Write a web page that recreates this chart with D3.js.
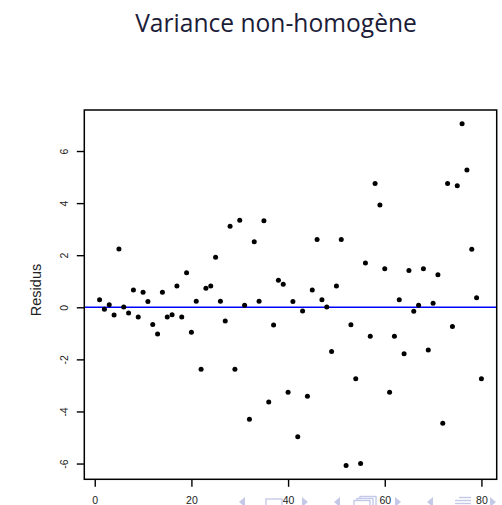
<!DOCTYPE html>
<html>
<head>
<meta charset="utf-8">
<script src="https://cdn.jsdelivr.net/npm/d3@7/dist/d3.min.js"></script>
<style>
  html, body { margin: 0; padding: 0; background: #fff; overflow: hidden; }
  svg { display: block; }
</style>
</head>
<body>
<svg id="chart" width="502" height="505"></svg>
<script>
// Residuals of the fitted model, in observation order (1..80)
const residus = [
  0.29, -0.08, 0.10, -0.30, 2.24, 0.01, -0.22, 0.66, -0.37, 0.58,
  0.22, -0.66, -1.03, 0.58, -0.37, -0.29, 0.82, -0.37, 1.33, -0.96,
  0.23, -2.38, 0.73, 0.82, 1.92, 0.23, -0.53, 3.11, -2.38, 3.34,
  0.08, -4.30, 2.52, 0.23, 3.32, -3.64, -0.68, 1.04, 0.88, -3.26,
  0.22, -4.97, -0.14, -3.42, 0.66, 2.60, 0.29, 0.01, -1.70, 0.82,
  2.60, -6.08, -0.67, -2.74, -6.00, 1.70, -1.11, 4.75, 3.93, 1.48,
  -3.26, -1.11, 0.29, -1.78, 1.41, -0.15, 0.08, 1.48, -1.64, 0.15,
  1.25, -4.45, 4.75, -0.74, 4.67, 7.05, 5.27, 2.23, 0.37, -2.74
];
const xTicks = [0, 20, 40, 60, 80];
const yTicks = [-6, -4, -2, 0, 2, 4, 6];
const titre = "Variance non-homogène";
const yLabel = "Residus";

const points = residus.map((r, i) => ({ index: i + 1, r }));

const svg = d3.select("#chart");

// plot region
const plotL = 84.3, plotR = 496.7, plotT = 110, plotB = 479.3;

// R-style axis ranges: data extent padded by 4% on each side
function padded(ext) {
  const d = (ext[1] - ext[0]) * 0.04;
  return [ext[0] - d, ext[1] + d];
}
const x = d3.scaleLinear()
  .domain(padded(d3.extent(points, d => d.index)))
  .range([plotL, plotR]);
const y = d3.scaleLinear()
  .domain(padded(d3.extent(points, d => d.r)))
  .range([plotB, plotT]);

// title
svg.append("text")
  .attr("x", 276)
  .attr("y", 32)
  .attr("text-anchor", "middle")
  .attr("font-family", "Open Sans, sans-serif")
  .attr("font-size", 24.6)
  .attr("fill", "#1c1c38")
  .text(titre);

// zero reference line
svg.append("line")
  .attr("x1", plotL).attr("x2", plotR)
  .attr("y1", y(0)).attr("y2", y(0))
  .attr("stroke", "#0000ff")
  .attr("stroke-width", 1.6);

// residual points
svg.append("g")
  .selectAll("circle")
  .data(points)
  .join("circle")
  .attr("cx", d => x(d.index))
  .attr("cy", d => y(d.r))
  .attr("r", 2.5)
  .attr("fill", "#000");

// axes
const tickFont = "Liberation Sans, Arial, sans-serif";
const xAxis = svg.append("g")
  .attr("transform", `translate(0,${plotB})`)
  .call(d3.axisBottom(x).tickValues(xTicks).tickSize(7.5).tickPadding(4).tickFormat(d3.format("d")));
xAxis.select(".domain").remove();
xAxis.selectAll("line").attr("stroke", "#000").attr("stroke-width", 1.4);
xAxis.selectAll("text")
  .attr("font-family", tickFont)
  .attr("font-size", 10.5)
  .attr("fill", "#222")
  .attr("dy", "0.72em")
  .attr("y", 17.5);

const yAxis = svg.append("g")
  .attr("transform", `translate(${plotL},0)`)
  .call(d3.axisLeft(y).tickValues(yTicks).tickSize(7.5).tickFormat(d => d3.format("d")(d).replace("\u2212", "-")));
yAxis.select(".domain").remove();
yAxis.selectAll("line").attr("stroke", "#000").attr("stroke-width", 1.4);
yAxis.selectAll("text")
  .attr("font-family", tickFont)
  .attr("font-size", 10.5)
  .attr("fill", "#222")
  .attr("text-anchor", "middle")
  .attr("dy", null)
  .attr("x", 0)
  .attr("y", -16.5)
  .attr("transform", "rotate(-90)");

// plot frame
svg.append("rect")
  .attr("x", plotL).attr("y", plotT)
  .attr("width", plotR - plotL).attr("height", plotB - plotT)
  .attr("fill", "none")
  .attr("stroke", "#000")
  .attr("stroke-width", 1.5);

// y axis title
svg.append("text")
  .attr("transform", `translate(40.5,290) rotate(-90)`)
  .attr("text-anchor", "middle")
  .attr("font-family", tickFont)
  .attr("font-size", 14.5)
  .attr("fill", "#222")
  .text(yLabel);

// slide navigation symbols along the bottom edge
const navColor = "#c5c9e8";
const nav = svg.append("g").attr("fill", "none").attr("stroke", navColor).attr("stroke-width", 1.4);
function triLeft(cx, cy) {
  nav.append("path").attr("d", `M${cx + 3},${cy - 5}L${cx - 3},${cy}L${cx + 3},${cy + 5}Z`).attr("fill", navColor).attr("stroke", "none");
}
function triRight(cx, cy) {
  nav.append("path").attr("d", `M${cx - 3},${cy - 5}L${cx + 3},${cy}L${cx - 3},${cy + 5}Z`).attr("fill", navColor).attr("stroke", "none");
}
const ny = 502;
triLeft(242, ny);
nav.append("rect").attr("x", 266).attr("y", 499).attr("width", 16).attr("height", 11);
triRight(305, ny);
triLeft(337, ny);
nav.append("rect").attr("x", 360).attr("y", 496.5).attr("width", 16).attr("height", 10);
nav.append("rect").attr("x", 357).attr("y", 498.5).attr("width", 16).attr("height", 10).attr("fill", "#fff");
nav.append("rect").attr("x", 354).attr("y", 500.5).attr("width", 16).attr("height", 10).attr("fill", "#fff");
triRight(398, ny);
triLeft(430, ny);
[497.5, 500.5, 503.5].forEach((yy, i) => {
  nav.append("line").attr("x1", 455 + (i === 0 ? 4 : 0)).attr("x2", 471).attr("y1", yy).attr("y2", yy);
});
triRight(493, ny);
</script>
</body>
</html>
